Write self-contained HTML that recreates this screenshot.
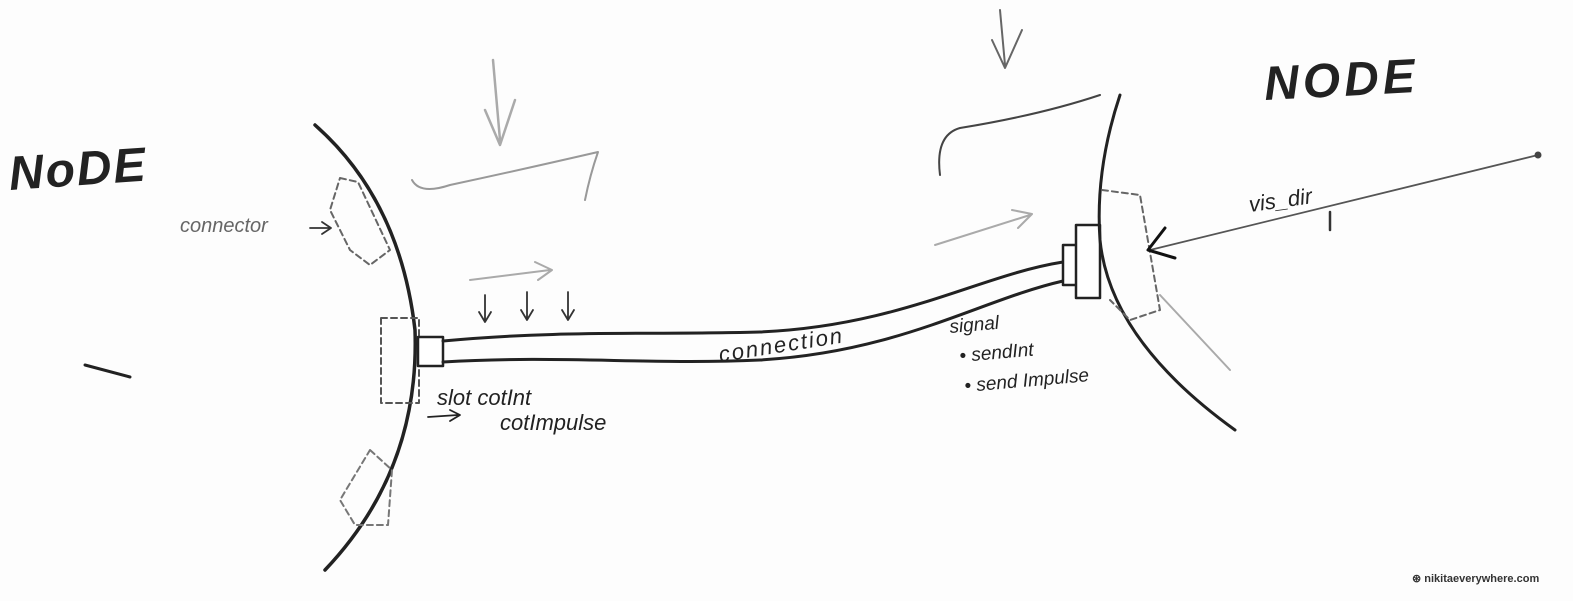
<!DOCTYPE html>
<html><head><meta charset="utf-8"><style>
html,body{margin:0;padding:0;background:#fff}
svg{display:block}
text{font-family:"Liberation Sans",sans-serif}
</style></head><body>
<svg width="1573" height="601" viewBox="0 0 1573 601" xmlns="http://www.w3.org/2000/svg">
<rect width="1573" height="601" fill="#fdfdfd"/>
<g fill="none" stroke-linecap="round" stroke-linejoin="round">
<!-- left arc -->
<path d="M315 125 Q400 200 415 330 Q420 470 325 570" stroke="#222" stroke-width="3.5"/>
<!-- dashed connectors left -->
<path d="M340 178 L358 182 L390 250 L370 265 L350 250 L330 210 Z" stroke="#666" stroke-width="2" stroke-dasharray="6 4"/>
<rect x="381" y="318" width="38" height="85" stroke="#555" stroke-width="2" stroke-dasharray="6 4"/>
<path d="M370 450 L392 470 L388 525 L355 525 L340 500 Z" stroke="#777" stroke-width="2" stroke-dasharray="6 4"/>
<rect x="418" y="337" width="25" height="29" stroke="#222" stroke-width="2.5" fill="#fff"/>
<!-- connection tube -->
<path d="M443 341 C560 330 650 335 760 332 C900 326 980 275 1063 262" stroke="#222" stroke-width="3"/>
<path d="M443 362 C560 355 650 365 760 360 C900 352 980 300 1063 281" stroke="#222" stroke-width="3"/>
<!-- right connector -->
<rect x="1063" y="245" width="22" height="40" stroke="#222" stroke-width="2.5" fill="#fff"/>
<rect x="1076" y="225" width="24" height="73" stroke="#222" stroke-width="2.5" fill="#fff"/>
<!-- right arc -->
<path d="M1120 95 Q1095 170 1100 240 Q1110 340 1235 430" stroke="#222" stroke-width="3"/>
<path d="M1102 190 L1140 195 L1160 310 L1130 320 L1110 300" stroke="#666" stroke-width="2" stroke-dasharray="6 4"/>
<!-- vis_dir line -->
<path d="M1150 250 L1538 155" stroke="#555" stroke-width="1.8"/>
<circle cx="1538" cy="155" r="3.5" fill="#444" stroke="none"/>
<path d="M1165 228 L1148 250 L1175 258" stroke="#111" stroke-width="3"/>
<path d="M1160 295 L1230 370" stroke="#aaa" stroke-width="2"/>
<path d="M1330 212 L1330 230" stroke="#333" stroke-width="2.5"/>
<!-- faint braces & arrows -->
<path d="M412 180 Q420 195 450 185 Q520 170 598 152 Q590 175 585 200" stroke="#999" stroke-width="2"/>
<path d="M940 175 Q935 135 960 128 Q1040 115 1100 95" stroke="#444" stroke-width="2"/>
<path d="M493 60 L500 140 M485 110 L500 145 L515 100" stroke="#aaa" stroke-width="2.5"/>
<path d="M1000 10 L1005 65 M992 40 L1005 68 L1022 30" stroke="#666" stroke-width="2"/>
<path d="M470 280 L550 270 M535 262 L552 270 L538 280" stroke="#aaa" stroke-width="2"/>
<path d="M935 245 L1030 215 M1012 210 L1032 214 L1018 228" stroke="#aaa" stroke-width="2"/>
<path d="M485 295 L485 320 M479 312 L485 322 L491 312 M527 292 L527 318 M521 310 L527 320 L533 310 M568 292 L568 318 M562 310 L568 320 L574 310" stroke="#333" stroke-width="1.8"/>
<path d="M428 417 L458 415 M450 410 L460 415 L450 421" stroke="#222" stroke-width="1.8"/>
<path d="M310 228 L330 228 M322 222 L331 228 L322 234" stroke="#333" stroke-width="1.8"/>
<path d="M85 365 L130 377" stroke="#222" stroke-width="3"/>
</g>
<g fill="#222" font-style="italic">
<text x="10" y="190" font-size="48" font-weight="bold" transform="rotate(-4 10 190)" letter-spacing="2">NoDE</text>
<text x="1265" y="100" font-size="48" font-weight="bold" transform="rotate(-3 1265 100)" letter-spacing="4">NODE</text>
<text x="180" y="232" font-size="20" fill="#666">connector</text>
<text x="437" y="405" font-size="22">slot cotInt</text>
<text x="500" y="430" font-size="22">cotImpulse</text>
<text x="720" y="362" font-size="22" transform="rotate(-9 720 362)" letter-spacing="2">connection</text>
<text x="950" y="333" font-size="19" transform="rotate(-5 950 333)">signal</text>
<text x="960" y="362" font-size="19" transform="rotate(-5 960 362)">• sendInt</text>
<text x="965" y="392" font-size="19" transform="rotate(-5 965 392)">• send Impulse</text>
<text x="1250" y="212" font-size="22" transform="rotate(-8 1250 212)">vis_dir</text>
</g>
<text x="1412" y="582" font-size="11" font-weight="bold" fill="#333">⊛ nikitaeverywhere.com</text>
</svg>
</body></html>
